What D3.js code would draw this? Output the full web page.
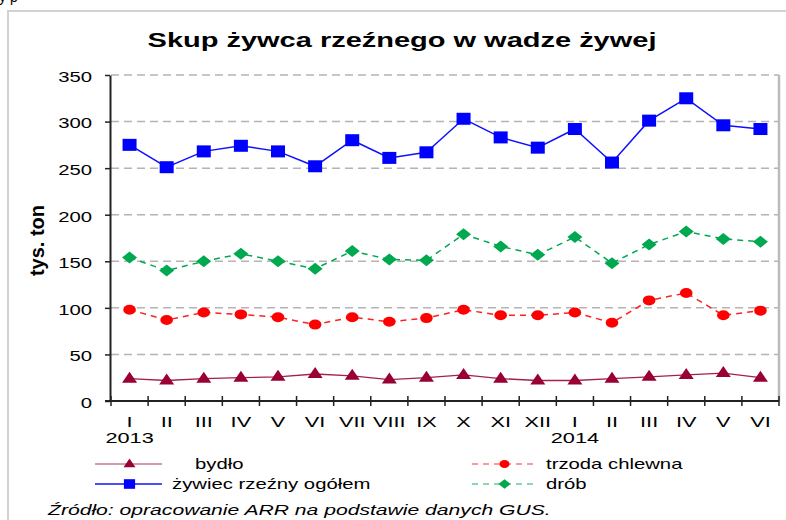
<!DOCTYPE html>
<html>
<head>
<meta charset="utf-8">
<script src="https://cdn.jsdelivr.net/npm/d3@7"></script>
<style>
body{margin:0;background:#fff;overflow:hidden}
text{font-family:"Liberation Sans",Arial,sans-serif;fill:#000}
</style>
</head>
<body>
<svg></svg>
<script>
// months on the x axis, two years
var months = ["I","II","III","IV","V","VI","VII","VIII","IX","X","XI","XII","I","II","III","IV","V","VI"];
var years = ["2013","","","","","","","","","","","","2014","","","","",""];
var yTicks = [0,50,100,150,200,250,300,350];

// tys. ton
var ogolem = [275,251,268,274,268,252,280,261,267,303,283,272,292,256,301,325,296,292];
var drob   = [154,140,150,158,150,142,161,152,151,179,166,157,176,148,168,182,174,171];
var trzoda = [98,87,95,93,90,82,90,85,89,98,92,92,95,84,108,116,92,97];
var bydlo  = [24,22,24,25,26,29,27,23,25,28,24,22,22,24,26,28,30,25];

var seriesNames = ["bydło","trzoda chlewna","żywiec rzeźny ogółem","drób"];

var SX = 1.45; // the picture is stretched sideways

// marker shapes
var triangle = function(g){ return g.append("path").attr("d","M0,-7L7.5,4L-7.5,4Z"); }
var square = function(g){ return g.append("rect").attr("x",-7).attr("y",-6).attr("width",14).attr("height",12); }
var ellipse = function(g){ return g.append("ellipse").attr("rx",6.3).attr("ry",5); }
var diamond = function(g){ return g.append("path").attr("d","M0,-6L7.5,0L0,6L-7.5,0Z"); }

var series = [
    {name:seriesNames[0], values:bydlo,  color:"#990033", line:"#a3204d", dash:null,  w:1.3, marker:triangle},
    {name:seriesNames[1], values:trzoda, color:"#ff0000", line:"#ff2020", dash:"6,5", w:1.5, marker:ellipse},
    {name:seriesNames[2], values:ogolem, color:"#0000ff", line:"#1010ff", dash:null,  w:1.5, marker:square},
    {name:seriesNames[3], values:drob,   color:"#00a84f", line:"#00a84f", dash:"6,5", w:1.5, marker:diamond}
];

var svg = d3.select("svg").attr("width",786).attr("height",520);

// outer frame
svg.append("rect").attr("x",8).attr("y",11).attr("width",800).attr("height",540)
    .attr("fill","#fff").attr("stroke","#d2d2d2").attr("stroke-width",2);

// leftover text from page above
svg.append("text").attr("x",-1).attr("y",2).attr("font-size",14).text("y p");

var margins = {left:111,right:7,top:75,bottom:119};
var x = d3.scaleBand().domain(d3.range(months.length)).range([margins.left,786-margins.right]);
var y = d3.scaleLinear().domain([0,350]).range([520-margins.bottom,margins.top]);
var cx = function(i){ return x(i)+x.bandwidth()/2; }

// title
svg.append("text")
    .attr("transform","translate(402,47) scale("+SX+",1)")
    .attr("text-anchor","middle")
    .attr("font-size",20).attr("font-weight","bold")
    .text("Skup żywca rzeźnego w wadze żywej");

// gridlines
svg.append("g").selectAll("line")
    .data(yTicks.filter(function(d){return d>0;}))
    .enter().append("line")
    .attr("x1",x.range()[0]).attr("x2",x.range()[1])
    .attr("y1",function(d){return y(d);}).attr("y2",function(d){return y(d);})
    .attr("stroke","#b4b4b4").attr("stroke-width",1.5).attr("stroke-dasharray","8,5");

// right border of plot
svg.append("line")
    .attr("x1",x.range()[1]).attr("x2",x.range()[1])
    .attr("y1",y(350)).attr("y2",y(0))
    .attr("stroke","#bbbbbb").attr("stroke-width",2.5);

// series
var lineGen = d3.line().x(function(d,i){return cx(i);}).y(function(d){return y(d);});
series.forEach(function(s){
    svg.append("path").datum(s.values)
        .attr("d",lineGen).attr("fill","none")
        .attr("stroke",s.line).attr("stroke-width",s.w)
        .attr("stroke-dasharray",s.dash);
});
series.forEach(function(s){
    var pts = svg.append("g").selectAll("g").data(s.values).enter().append("g")
        .attr("transform",function(d,i){return "translate("+cx(i)+","+y(d)+")";})
        .attr("fill",s.color);
    pts.each(function(){ s.marker(d3.select(this)); });
});

// y axis
var yAxis = d3.axisLeft(y).tickValues(yTicks).tickSize(5).tickSizeOuter(0);
var ya = svg.append("g").attr("transform","translate("+(x.range()[0]-1)+",0)").call(yAxis);
ya.select(".domain").attr("stroke","#222").attr("stroke-width",2);
ya.selectAll(".tick line").attr("stroke","#222").attr("stroke-width",1.5);
ya.selectAll(".tick text")
    .attr("x",null).attr("dy","0.45em")
    .attr("transform","translate(-18,0) scale("+SX+",1)")
    .attr("font-size",14).attr("font-family","Liberation Sans, Arial, sans-serif").attr("fill","#000");

// x axis
svg.append("line")
    .attr("x1",x.range()[0]-6).attr("x2",x.range()[1])
    .attr("y1",y(0)).attr("y2",y(0))
    .attr("stroke","#222").attr("stroke-width",2);
svg.append("g").selectAll("line")
    .data(d3.range(months.length+1))
    .enter().append("line")
    .attr("x1",function(i){return i<months.length ? x(i) : x.range()[1];})
    .attr("x2",function(i){return i<months.length ? x(i) : x.range()[1];})
    .attr("y1",y(0)-5).attr("y2",y(0)+5)
    .attr("stroke","#222").attr("stroke-width",1.5);

var xAxis = d3.axisBottom(x).tickSize(0).tickFormat(function(i){return months[i];});
var xa = svg.append("g").attr("transform","translate(0,"+y(0)+")").call(xAxis);
xa.select(".domain").remove();
xa.selectAll(".tick text")
    .attr("y",null).attr("dy",null)
    .attr("transform","translate(0,26) scale("+SX+",1)")
    .attr("font-size",15).attr("font-family","Liberation Sans, Arial, sans-serif").attr("fill","#000");

svg.append("g").selectAll("text")
    .data(years.map(function(d,i){return {label:d,i:i};}).filter(function(d){return d.label;}))
    .enter().append("text")
    .attr("transform",function(d){return "translate("+cx(d.i)+",443) scale("+SX+",1)";})
    .attr("text-anchor","middle").attr("font-size",15)
    .text(function(d){return d.label;});

// y label
svg.append("text")
    .attr("transform","translate(37,240.5) rotate(-90)")
    .attr("text-anchor","middle").attr("dominant-baseline","central")
    .attr("font-size",20).attr("font-weight","bold")
    .text("tys. ton");

// legend
var legendPos = [
    {s:series[0], lx:95,  ly:464, tx:195},
    {s:series[2], lx:95,  ly:484, tx:172},
    {s:series[1], lx:472, ly:464, tx:546},
    {s:series[3], lx:472, ly:484, tx:546}
];
legendPos.forEach(function(p){
    var g = svg.append("g");
    var lw = p.lx<300 ? 67 : 63;
    g.append("line").attr("x1",p.lx).attr("x2",p.lx+lw).attr("y1",p.ly).attr("y2",p.ly)
        .attr("stroke",p.s.line).attr("stroke-width",p.s.w)
        .attr("stroke-dasharray",p.s.dash)
        .attr("opacity",p.s.dash||p.s.values===bydlo ? 0.6 : 1);
    var m = g.append("g").attr("transform","translate("+(p.lx+lw/2+1)+","+p.ly+") scale(0.8)").attr("fill",p.s.color);
    p.s.marker(m);
    g.append("text")
        .attr("transform","translate("+p.tx+","+(p.ly+5)+") scale("+SX+",1)")
        .attr("font-size",14)
        .text(p.s.name);
});

// source
svg.append("text")
    .attr("transform","translate(48,515) scale(1.51,1)")
    .attr("font-size",14).attr("font-style","italic")
    .text("Źródło: opracowanie ARR na podstawie danych GUS.");
</script>
</body>
</html>
